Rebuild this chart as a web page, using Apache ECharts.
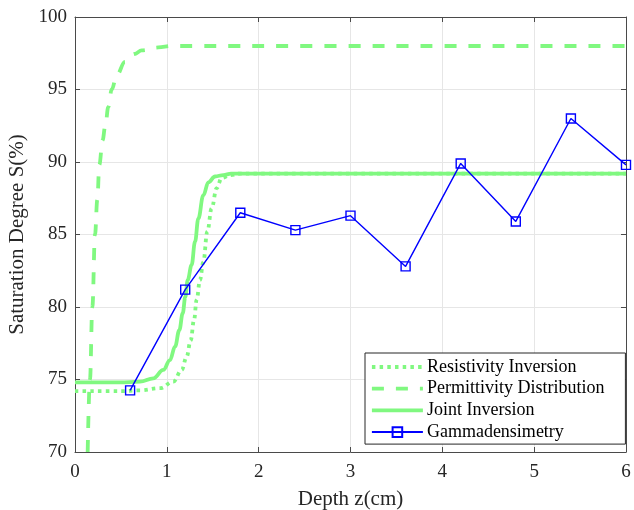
<!DOCTYPE html>
<html>
<head>
<meta charset="utf-8">
<script src="https://cdn.jsdelivr.net/npm/echarts@6/dist/echarts.min.js"></script>
<style>
  html, body { margin: 0; padding: 0; background: #fff; }
  #chart { width: 634px; height: 510px; }
</style>
</head>
<body>
<div id="chart"></div>
<script>
// Depth (cm) / saturation (%) samples for each profile
const resistivityX = [0, 0.5, 0.708, 0.926, 1.07, 1.162, 1.216, 1.26, 1.296, 1.325, 1.361, 1.397, 1.441, 1.488, 1.543, 1.597, 1.688, 1.8, 6];
const resistivityS = [74.2, 74.2, 74.25, 74.4, 74.85, 75.66, 76.57, 77.7, 79.1, 80.5, 81.86, 83.1, 85.2, 86.8, 88.2, 88.9, 89.1, 89.2, 89.2];

const permittivityX = [0.138, 0.163, 0.189, 0.218, 0.243, 0.265, 0.30, 0.33, 0.363, 0.40, 0.454, 0.545, 0.65, 0.726, 0.907, 1.05, 6];
const permittivityS = [70, 75, 80, 85, 87.4, 89.8, 91.5, 92.5, 93.8, 95.0, 96.0, 96.9, 97.45, 97.7, 97.9, 98.0, 98.0];

const jointX = [0, 0.49, 0.708, 0.853, 0.962, 1.034, 1.089, 1.136, 1.173, 1.201, 1.227, 1.27, 1.307, 1.343, 1.397, 1.452, 1.525, 1.615, 1.7, 6];
const jointS = [74.8, 74.8, 74.85, 75.08, 75.66, 76.34, 77.26, 78.4, 79.57, 80.7, 81.86, 82.9, 84.5, 86.1, 87.7, 88.6, 89.0, 89.1, 89.2, 89.2];

const gammaX = [0.6, 1.2, 1.8, 2.4, 3.0, 3.6, 4.2, 4.8, 5.4, 6.0];
const gammaS = [74.25, 81.2, 86.5, 85.3, 86.3, 82.8, 89.9, 85.9, 93.0, 89.8];

const xTicks = [0, 1, 2, 3, 4, 5, 6];
const yTicks = [70, 75, 80, 85, 90, 95, 100];

const pairs = (xs, ys) => xs.map((x, i) => [x, ys[i]]);

const FONT = 'Liberation Serif';
const AXIS_COLOR = '#4a4a4a';
const TEXT_COLOR = '#262626';
const GREEN = '#80f880';
const LINE_W = 3.8;

const chart = echarts.init(document.getElementById('chart'), null, { renderer: 'canvas' });

const baseX = {
  type: 'value',
  min: xTicks[0],
  max: xTicks[xTicks.length - 1],
  interval: xTicks[1] - xTicks[0],
  axisLine: { show: true, onZero: false, lineStyle: { color: AXIS_COLOR, width: 1 } },
  axisTick: { show: true, inside: true, length: 5, lineStyle: { color: AXIS_COLOR } }
};
const baseY = {
  type: 'value',
  min: yTicks[0],
  max: yTicks[yTicks.length - 1],
  interval: yTicks[1] - yTicks[0],
  axisLine: { show: true, onZero: false, lineStyle: { color: AXIS_COLOR, width: 1 } },
  axisTick: { show: true, inside: true, length: 5, lineStyle: { color: AXIS_COLOR } }
};

// green profiles are plain lines: hide the marker in their legend icons
const lineOnly = { opacity: 0 };
const thickLine = { width: LINE_W };

chart.setOption({
  animation: false,
  backgroundColor: '#fff',
  textStyle: { fontFamily: FONT },
  grid: { left: 75, right: 8, top: 17, bottom: 58, containLabel: false, outerBoundsMode: 'none' },
  xAxis: [
    Object.assign({}, baseX, {
      position: 'bottom',
      name: 'Depth z(cm)',
      nameLocation: 'middle',
      nameGap: 37,
      nameTextStyle: { fontFamily: FONT, fontSize: 21, color: TEXT_COLOR },
      axisLabel: { fontFamily: FONT, fontSize: 19, color: TEXT_COLOR, margin: 11 },
      splitLine: { show: true, lineStyle: { color: '#e6e6e6', width: 1 } }
    }),
    Object.assign({}, baseX, {
      position: 'top',
      axisLabel: { show: false },
      splitLine: { show: false }
    })
  ],
  yAxis: [
    Object.assign({}, baseY, {
      position: 'left',
      name: 'Saturation Degree S(%)',
      nameLocation: 'middle',
      nameGap: 41,
      nameTextStyle: { fontFamily: FONT, fontSize: 21, color: TEXT_COLOR },
      axisLabel: { fontFamily: FONT, fontSize: 19, color: TEXT_COLOR, margin: 8 },
      splitLine: { show: true, lineStyle: { color: '#e6e6e6', width: 1 } }
    }),
    Object.assign({}, baseY, {
      position: 'right',
      axisLabel: { show: false },
      splitLine: { show: false }
    })
  ],
  legend: {
    orient: 'vertical',
    left: 365,
    top: 353,
    padding: [5, 21, 3, 5],
    itemWidth: 51,
    itemHeight: 12,
    itemGap: 3.7,
    backgroundColor: '#fff',
    borderColor: '#262626',
    borderWidth: 1,
    borderRadius: 0,
    textStyle: { fontFamily: FONT, fontSize: 18, color: '#000', padding: [0, 0, 0, -1] },
    data: [
      { name: 'Resistivity Inversion', itemStyle: lineOnly, lineStyle: thickLine },
      { name: 'Permittivity Distribution', itemStyle: lineOnly, lineStyle: thickLine },
      { name: 'Joint Inversion', itemStyle: lineOnly, lineStyle: thickLine },
      { name: 'Gammadensimetry' }
    ]
  },
  series: [
    {
      name: 'Resistivity Inversion',
      type: 'line',
      data: pairs(resistivityX, resistivityS),
      smooth: 0.4,
      smoothMonotone: 'x',
      showSymbol: false,
      symbol: 'none',
      clip: true,
      color: GREEN,
      lineStyle: { color: GREEN, width: LINE_W, type: [3.5, 4.2], cap: 'butt' }
    },
    {
      name: 'Permittivity Distribution',
      type: 'line',
      data: pairs(permittivityX, permittivityS),
      smooth: 0.4,
      smoothMonotone: 'x',
      showSymbol: false,
      symbol: 'none',
      clip: true,
      color: GREEN,
      lineStyle: { color: GREEN, width: LINE_W, type: [12, 12], cap: 'butt' }
    },
    {
      name: 'Joint Inversion',
      type: 'line',
      data: pairs(jointX, jointS),
      smooth: 0.4,
      smoothMonotone: 'x',
      showSymbol: false,
      symbol: 'none',
      clip: true,
      color: GREEN,
      lineStyle: { color: GREEN, width: LINE_W, type: 'solid' }
    },
    {
      name: 'Gammadensimetry',
      type: 'line',
      data: pairs(gammaX, gammaS),
      symbol: 'rect',
      symbolSize: 9,
      clip: false,
      color: '#0000ff',
      itemStyle: { color: 'rgba(255,255,255,0)', borderColor: '#0000ff', borderWidth: 1.4 },
      lineStyle: { color: '#0000ff', width: 1.4 }
    }
  ]
});
</script>
</body>
</html>
